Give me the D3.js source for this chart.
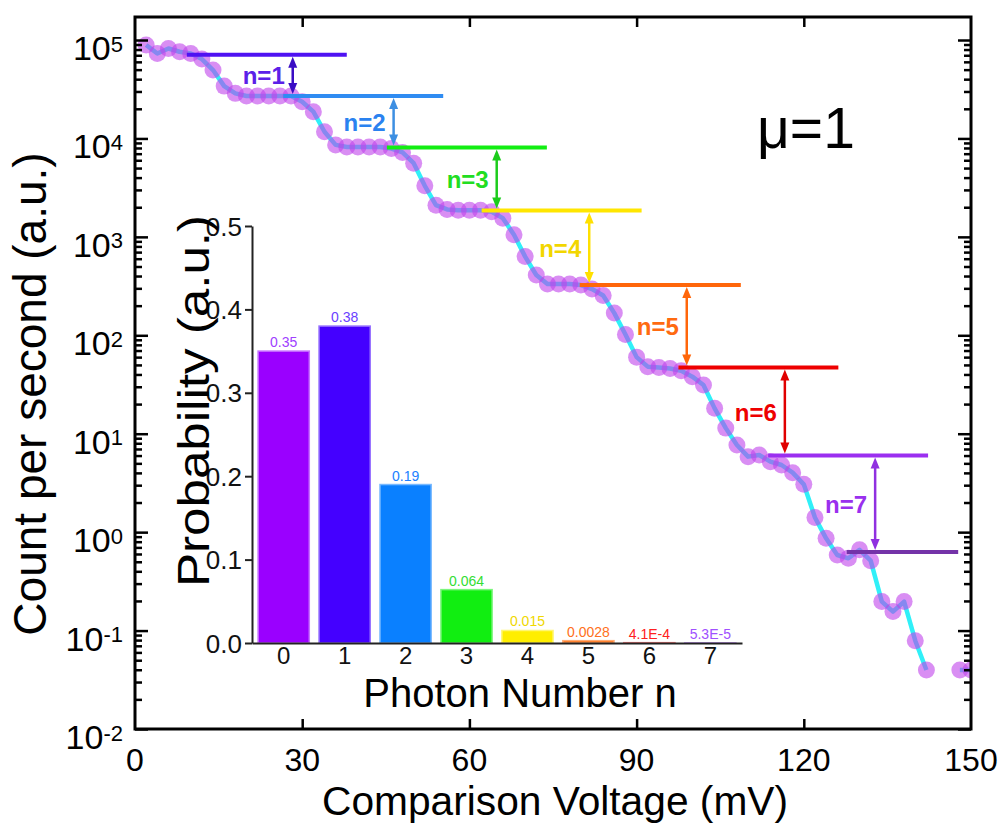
<!DOCTYPE html>
<html>
<head>
<meta charset="utf-8">
<script src="https://cdn.jsdelivr.net/npm/d3@7"></script>
<style>
  body { margin: 0; background: #fff; }
  svg { display: block; }
  text { font-family: "Liberation Sans", Arial, Helvetica, sans-serif; }
</style>
</head>
<body>
<svg id="chart" width="1005" height="827"></svg>
<script>
// Count rate versus comparison voltage (step-like photon-number staircase)
const voltage = [2, 4, 6, 8, 10, 12, 14, 16, 18, 20, 22, 24, 26, 28, 30, 32, 34, 36, 38, 40,
  42, 44, 46, 48, 50, 52, 54, 56, 58, 60, 62, 64, 66, 68, 70, 72, 74, 76, 78, 80,
  82, 84, 86, 88, 90, 92, 94, 96, 98, 100, 102, 104, 106, 108, 110, 112, 114, 116, 118, 120,
  122, 124, 126, 128, 130, 132, 134, 136, 138, 140, 142, 144, 146, 148, 150];
const counts = [89000, 73000, 82000, 76000, 73000, 64000, 49500, 34000, 28700, 27000,
  27000, 27000, 27000, 27000, 23600, 18700, 11700, 8600, 8200, 8200,
  8200, 8200, 7900, 7200, 5600, 3300, 2100, 1900, 1860, 1860,
  1860, 1800, 1550, 1050, 630, 410, 332, 332, 332, 324,
  295, 254, 168, 102, 60, 48, 47, 46, 43.6, 38,
  31.3, 18.1, 11.4, 7.67, 5.85, 6.08, 5.2, 4.81, 4.02, 3.06,
  1.41, 0.865, 0.586, 0.542, 0.661, 0.513, 0.197, 0.156, 0.197, 0.0789,
  0.0398, null, null, 0.0398, 0.0398];

// Plateau levels and the voltage span of each level marker
const levelCounts = [71000, 27000, 8100, 1850, 325, 47, 6.0, 0.63];
const levelFrom = [9.3, 26.6, 45.2, 62.2, 79.8, 97.5, 113.6, 127.7];
const levelTo = [38.0, 55.3, 73.9, 90.9, 108.7, 126.2, 142.3, 147.7];
const levelColors = ["#4f12f2", "#2f8cf2", "#12ee12", "#ffe600", "#ff660a", "#ee0000", "#9b2ff0", "#7433a8"];

// Double arrows between consecutive plateaus
const arrowVoltage = [28.3, 46.4, 64.9, 81.5, 99.0, 116.6, 132.8];
const stepLabels = ["n=1", "n=2", "n=3", "n=4", "n=5", "n=6", "n=7"];
const arrowColors = ["#3a0dc4", "#3d8fe2", "#1ccc1c", "#ffe000", "#ff660a", "#e00000", "#9030e0"];
const stepLabelColors = ["#5b20e8", "#2a82f0", "#22dd22", "#f2d600", "#ff6a10", "#ee0000", "#9a30ee"];

// Inset: photon-number probability distribution
const photonNumbers = [0, 1, 2, 3, 4, 5, 6, 7];
const probabilities = [0.35, 0.38, 0.19, 0.064, 0.015, 0.0028, 4.1e-4, 5.3e-5];
const probabilityLabels = ["0.35", "0.38", "0.19", "0.064", "0.015", "0.0028", "4.1E-4", "5.3E-5"];
const barColors = ["#9a00ff", "#4400ff", "#0a80ff", "#11ee11", "#ffee00", "#ff6600", "#ff1a1a", "#9933ff"];
const barLabelColors = ["#a040ff", "#6a40ff", "#2080ff", "#33dd33", "#f0d800", "#ff7020", "#ff2020", "#a050ff"];

// Tick values
const xTicks = [0, 30, 60, 90, 120, 150];
const yTickExponents = [-2, -1, 0, 1, 2, 3, 4, 5];
const insetYTicks = [0, 0.1, 0.2, 0.3, 0.4, 0.5];

const svg = d3.select("#chart");
const FONT = '"Liberation Sans", Arial, Helvetica, sans-serif';

// ---------- main plot ----------
const box = { left: 135, right: 971, top: 17, bottom: 729 };
const x = d3.scaleLinear([0, 150], [box.left, box.right]);
const y = d3.scaleLog([0.01, 1.713e5], [box.bottom, box.top]);

svg.append("defs").append("clipPath").attr("id", "plotClip")
  .append("rect")
  .attr("x", box.left).attr("y", box.top)
  .attr("width", box.right - box.left).attr("height", box.bottom - box.top);

const points = voltage.map((v, i) => ({ v, c: counts[i] }));

const plotG = svg.append("g").attr("clip-path", "url(#plotClip)");

plotG.append("path")
  .datum(points)
  .attr("fill", "none")
  .attr("stroke", "#30f0f8")
  .attr("stroke-width", 4.5)
  .attr("stroke-linejoin", "round")
  .attr("d", d3.line().defined(d => d.c != null).x(d => x(d.v)).y(d => y(d.c)));

plotG.selectAll("circle.pt")
  .data(points.filter(d => d.c != null))
  .join("circle")
  .attr("class", "pt")
  .attr("cx", d => x(d.v))
  .attr("cy", d => y(d.c))
  .attr("r", 8.5)
  .attr("fill", "rgb(192,66,235)")
  .attr("fill-opacity", 0.6);

// plateau level markers
plotG.selectAll("line.level")
  .data(levelCounts)
  .join("line")
  .attr("class", "level")
  .attr("x1", (d, i) => x(levelFrom[i]))
  .attr("x2", (d, i) => x(levelTo[i]))
  .attr("y1", d => y(d))
  .attr("y2", d => y(d))
  .attr("stroke", (d, i) => levelColors[i])
  .attr("stroke-width", 4);

// double-headed arrows
const arrowG = svg.append("g");
arrowVoltage.forEach((v, i) => {
  const ax = x(v);
  const yTop = y(levelCounts[i]) + 2;
  const yBot = y(levelCounts[i + 1]) - 2;
  const col = arrowColors[i];
  const head = 11, half = 4.5;
  arrowG.append("line")
    .attr("x1", ax).attr("x2", ax)
    .attr("y1", yTop + head - 1).attr("y2", yBot - head + 1)
    .attr("stroke", col).attr("stroke-width", 2.5);
  arrowG.append("path")
    .attr("d", `M${ax},${yTop} L${ax - half},${yTop + head} L${ax + half},${yTop + head} Z`)
    .attr("fill", col);
  arrowG.append("path")
    .attr("d", `M${ax},${yBot} L${ax - half},${yBot - head} L${ax + half},${yBot - head} Z`)
    .attr("fill", col);
  const midCount = Math.sqrt(levelCounts[i] * levelCounts[i + 1]);
  arrowG.append("text")
    .attr("x", ax - 29)
    .attr("y", y(midCount) + 9)
    .attr("text-anchor", "middle")
    .attr("font-size", 24)
    .attr("font-weight", "bold")
    .attr("fill", stepLabelColors[i])
    .text(stepLabels[i]);
});

// frame
svg.append("rect")
  .attr("x", box.left).attr("y", box.top)
  .attr("width", box.right - box.left).attr("height", box.bottom - box.top)
  .attr("fill", "none").attr("stroke", "#000").attr("stroke-width", 3);

// axis ticks (inward, on all four sides)
function styleTicks(g) {
  g.select(".domain").remove();
  g.selectAll(".tick line").attr("stroke", "#000").attr("stroke-width", 2.5);
  g.selectAll(".tick text").remove();
}
const innerX = [30, 60, 90, 120];
svg.append("g").attr("transform", `translate(0,${box.bottom})`)
  .call(d3.axisBottom(x).tickValues(innerX).tickSize(-10)).call(styleTicks);
svg.append("g").attr("transform", `translate(0,${box.top})`)
  .call(d3.axisTop(x).tickValues(innerX).tickSize(-10)).call(styleTicks);

const allLogTicks = y.ticks().filter(t => t >= 0.01 && t <= 1.713e5);
const isMajor = t => Math.abs(Math.log10(t) - Math.round(Math.log10(t))) < 1e-9;
const majorTicks = allLogTicks.filter(isMajor);
const minorTicks = allLogTicks.filter(t => !isMajor(t));

svg.append("g").attr("transform", `translate(${box.left},0)`)
  .call(d3.axisLeft(y).tickValues(majorTicks).tickSize(-13)).call(styleTicks);
svg.append("g").attr("transform", `translate(${box.left},0)`)
  .call(d3.axisLeft(y).tickValues(minorTicks).tickSize(-7)).call(styleTicks);
svg.append("g").attr("transform", `translate(${box.right},0)`)
  .call(d3.axisRight(y).tickValues(majorTicks).tickSize(-13)).call(styleTicks);
svg.append("g").attr("transform", `translate(${box.right},0)`)
  .call(d3.axisRight(y).tickValues(minorTicks).tickSize(-7)).call(styleTicks);

// tick labels
svg.append("g").selectAll("text")
  .data(xTicks)
  .join("text")
  .attr("x", d => x(d))
  .attr("y", 771)
  .attr("text-anchor", "middle")
  .attr("font-size", 32)
  .attr("fill", "#000")
  .text(d => d);

const yLab = svg.append("g").selectAll("text")
  .data(yTickExponents)
  .join("text")
  .attr("x", 123)
  .attr("y", d => y(Math.pow(10, d)) + 20)
  .attr("text-anchor", "end")
  .attr("font-size", 34)
  .attr("fill", "#000");
yLab.append("tspan").text("10");
yLab.append("tspan").attr("font-size", 22).attr("dy", -8.5).text(d => d);

// axis titles
svg.append("text")
  .attr("x", 555).attr("y", 815)
  .attr("text-anchor", "middle")
  .attr("font-size", 40)
  .attr("textLength", 466)
  .attr("lengthAdjust", "spacingAndGlyphs")
  .text("Comparison Voltage (mV)");

svg.append("text")
  .attr("transform", "translate(46,394) rotate(-90)")
  .attr("text-anchor", "middle")
  .attr("font-size", 46)
  .text("Count per second (a.u.)");

svg.append("text")
  .attr("x", 757).attr("y", 148)
  .attr("font-size", 57)
  .text("μ=1");

// ---------- inset bar chart ----------
const xi = d3.scaleBand(photonNumbers, [252, 742]).paddingInner(0.16).paddingOuter(0.1);
const yi = d3.scaleLinear([0, 0.5], [643, 226]);

const inset = svg.append("g");

inset.selectAll("rect.bar")
  .data(probabilities)
  .join("rect")
  .attr("class", "bar")
  .attr("x", (d, i) => xi(photonNumbers[i]))
  .attr("y", d => yi(d))
  .attr("width", xi.bandwidth())
  .attr("height", d => yi(0) - yi(d))
  .attr("fill", (d, i) => barColors[i])
  .attr("stroke", (d, i) => d3.interpolateRgb(barColors[i], "#ffffff")(0.45))
  .attr("stroke-width", 1.5);

inset.selectAll("text.val")
  .data(probabilities)
  .join("text")
  .attr("class", "val")
  .attr("x", (d, i) => xi(photonNumbers[i]) + xi.bandwidth() / 2)
  .attr("y", d => yi(d) - 4)
  .attr("text-anchor", "middle")
  .attr("font-size", 14)
  .attr("fill", (d, i) => barLabelColors[i])
  .text((d, i) => probabilityLabels[i]);

const yAxisI = inset.append("g").attr("transform", "translate(252,0)")
  .call(d3.axisLeft(yi).tickValues(insetYTicks).tickSize(7).tickSizeOuter(0).tickPadding(3).tickFormat(d3.format(".1f")));
yAxisI.select(".domain").attr("stroke", "#222").attr("stroke-width", 2);
yAxisI.selectAll(".tick line").attr("stroke", "#222").attr("stroke-width", 2);
yAxisI.selectAll(".tick text").attr("font-size", 26).attr("font-family", FONT).attr("fill", "#111").attr("dy", "0.35em");

const xAxisI = inset.append("g").attr("transform", "translate(0,643)")
  .call(d3.axisBottom(xi).tickSize(0).tickSizeOuter(0).tickPadding(4));
xAxisI.select(".domain").attr("stroke", "#222").attr("stroke-width", 2);
xAxisI.selectAll(".tick text").attr("font-size", 24).attr("font-family", FONT).attr("fill", "#111");

inset.append("text")
  .attr("x", 520).attr("y", 707)
  .attr("text-anchor", "middle")
  .attr("font-size", 40)
  .text("Photon Number n");

inset.append("text")
  .attr("transform", "translate(209,401) rotate(-90)")
  .attr("text-anchor", "middle")
  .attr("font-size", 45)
  .attr("textLength", 372)
  .attr("lengthAdjust", "spacingAndGlyphs")
  .text("Probability (a.u.)");
</script>
</body>
</html>
